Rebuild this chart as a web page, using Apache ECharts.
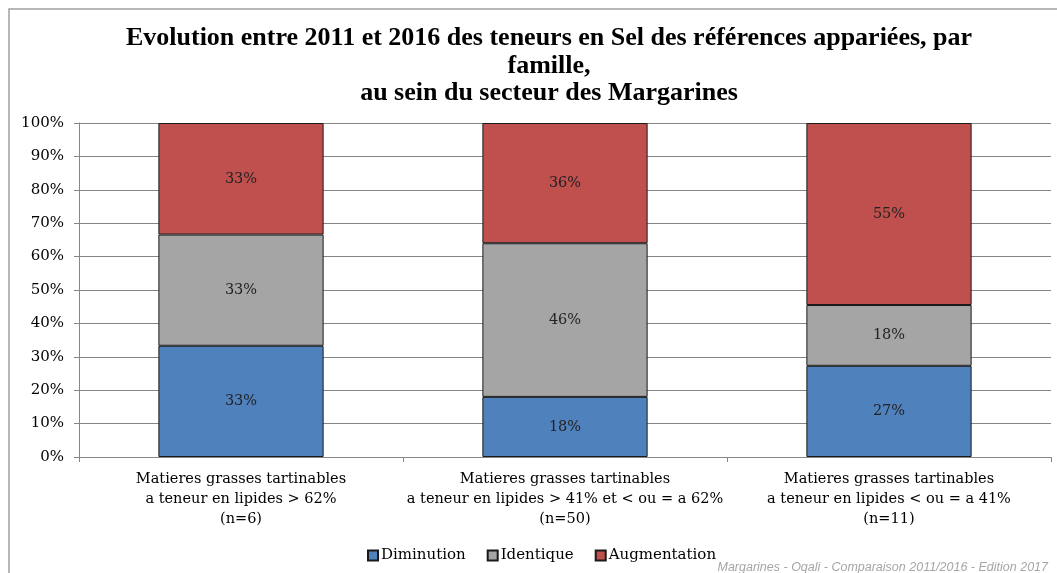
<!DOCTYPE html>
<html lang="fr">
<head>
  <meta charset="UTF-8">
  <title>Evolution Sel Margarines</title>
  <script src="https://cdn.jsdelivr.net/npm/echarts@6/dist/echarts.min.js"></script>
  <style>
    html, body { margin: 0; padding: 0; background: #fff; }
    #chart { width: 1057px; height: 573px; }
  </style>
</head>
<body>
  <div id="chart"></div>
  <script>
    // données
    const categories = [
      'Matieres grasses tartinables\na teneur en lipides > 62%\n(n=6)',
      'Matieres grasses tartinables\na teneur en lipides > 41% et < ou = a 62%\n(n=50)',
      'Matieres grasses tartinables\na teneur en lipides < ou = a 41%\n(n=11)'
    ];
    const seriesNames = ['Diminution', 'Identique', 'Augmentation'];
    const diminution = [33.3, 18, 27.3];
    const identique = [33.3, 46, 18.2];
    const augmentation = [33.4, 36, 54.5];
    const colors = ['#4F81BD', '#A5A5A5', '#C0504D'];

    const serif = '"DejaVu Serif", "Liberation Serif", serif';
    const chart = echarts.init(document.getElementById('chart'));

    const makeSeries = (name, data, color) => ({
      name: name,
      type: 'bar',
      stack: 'total',
      barWidth: '51%',
      data: data,
      itemStyle: { color: color, borderColor: '#1a1a1a', borderWidth: 1 },
      label: {
        show: true,
        position: 'inside',
        formatter: p => Math.round(p.value) + '%',
        fontFamily: serif,
        fontSize: 14.5,
        color: '#222'
      }
    });

    const option = {
      animation: false,
      color: colors,
      title: {
        text: 'Evolution entre 2011 et 2016 des teneurs en Sel des références appariées, par\nfamille,\nau sein du secteur des Margarines',
        left: 544,
        textAlign: 'center',
        top: 20,
        textStyle: {
          fontFamily: '"Liberation Serif", serif',
          fontWeight: 'bold',
          fontSize: 26,
          lineHeight: 27.5,
          color: '#000'
        }
      },
      graphic: [
        {
          type: 'rect',
          shape: { x: 9, y: 9, width: 1100, height: 620 },
          style: { fill: 'none', stroke: '#a0a0a0', lineWidth: 1.5 },
          silent: true
        },
        {
          type: 'text',
          right: 9,
          top: 561,
          style: {
            text: 'Margarines - Oqali - Comparaison 2011/2016 - Edition 2017',
            font: 'italic 12.5px "Liberation Sans", sans-serif',
            fill: '#a6a6a6'
          }
        }
      ],
      legend: {
        data: seriesNames,
        left: 362,
        top: 543,
        icon: 'rect',
        itemWidth: 10,
        itemHeight: 10,
        itemGap: 21,
        textStyle: { fontFamily: serif, fontSize: 15, color: '#000', padding: [0, 0, 0, -2] }
      },
      grid: { left: 79, right: 6, top: 123, bottom: 116 },
      xAxis: {
        type: 'category',
        data: categories,
        axisLine: { lineStyle: { color: '#868686' } },
        axisTick: { show: true, length: 5, lineStyle: { color: '#868686' } },
        axisLabel: {
          fontFamily: serif,
          fontSize: 14.5,
          lineHeight: 20,
          color: '#000',
          margin: 12,
          interval: 0
        }
      },
      yAxis: {
        type: 'value',
        min: 0,
        max: 100,
        interval: 10,
        axisLine: { show: true, lineStyle: { color: '#868686' } },
        axisTick: { show: true, length: 5, lineStyle: { color: '#868686' } },
        splitLine: { lineStyle: { color: '#868686' } },
        axisLabel: {
          formatter: '{value}%',
          fontFamily: serif,
          fontSize: 15,
          color: '#000',
          margin: 15
        }
      },
      series: [
        makeSeries(seriesNames[0], diminution, colors[0]),
        makeSeries(seriesNames[1], identique, colors[1]),
        makeSeries(seriesNames[2], augmentation, colors[2])
      ]
    };

    chart.setOption(option);
  </script>
</body>
</html>
